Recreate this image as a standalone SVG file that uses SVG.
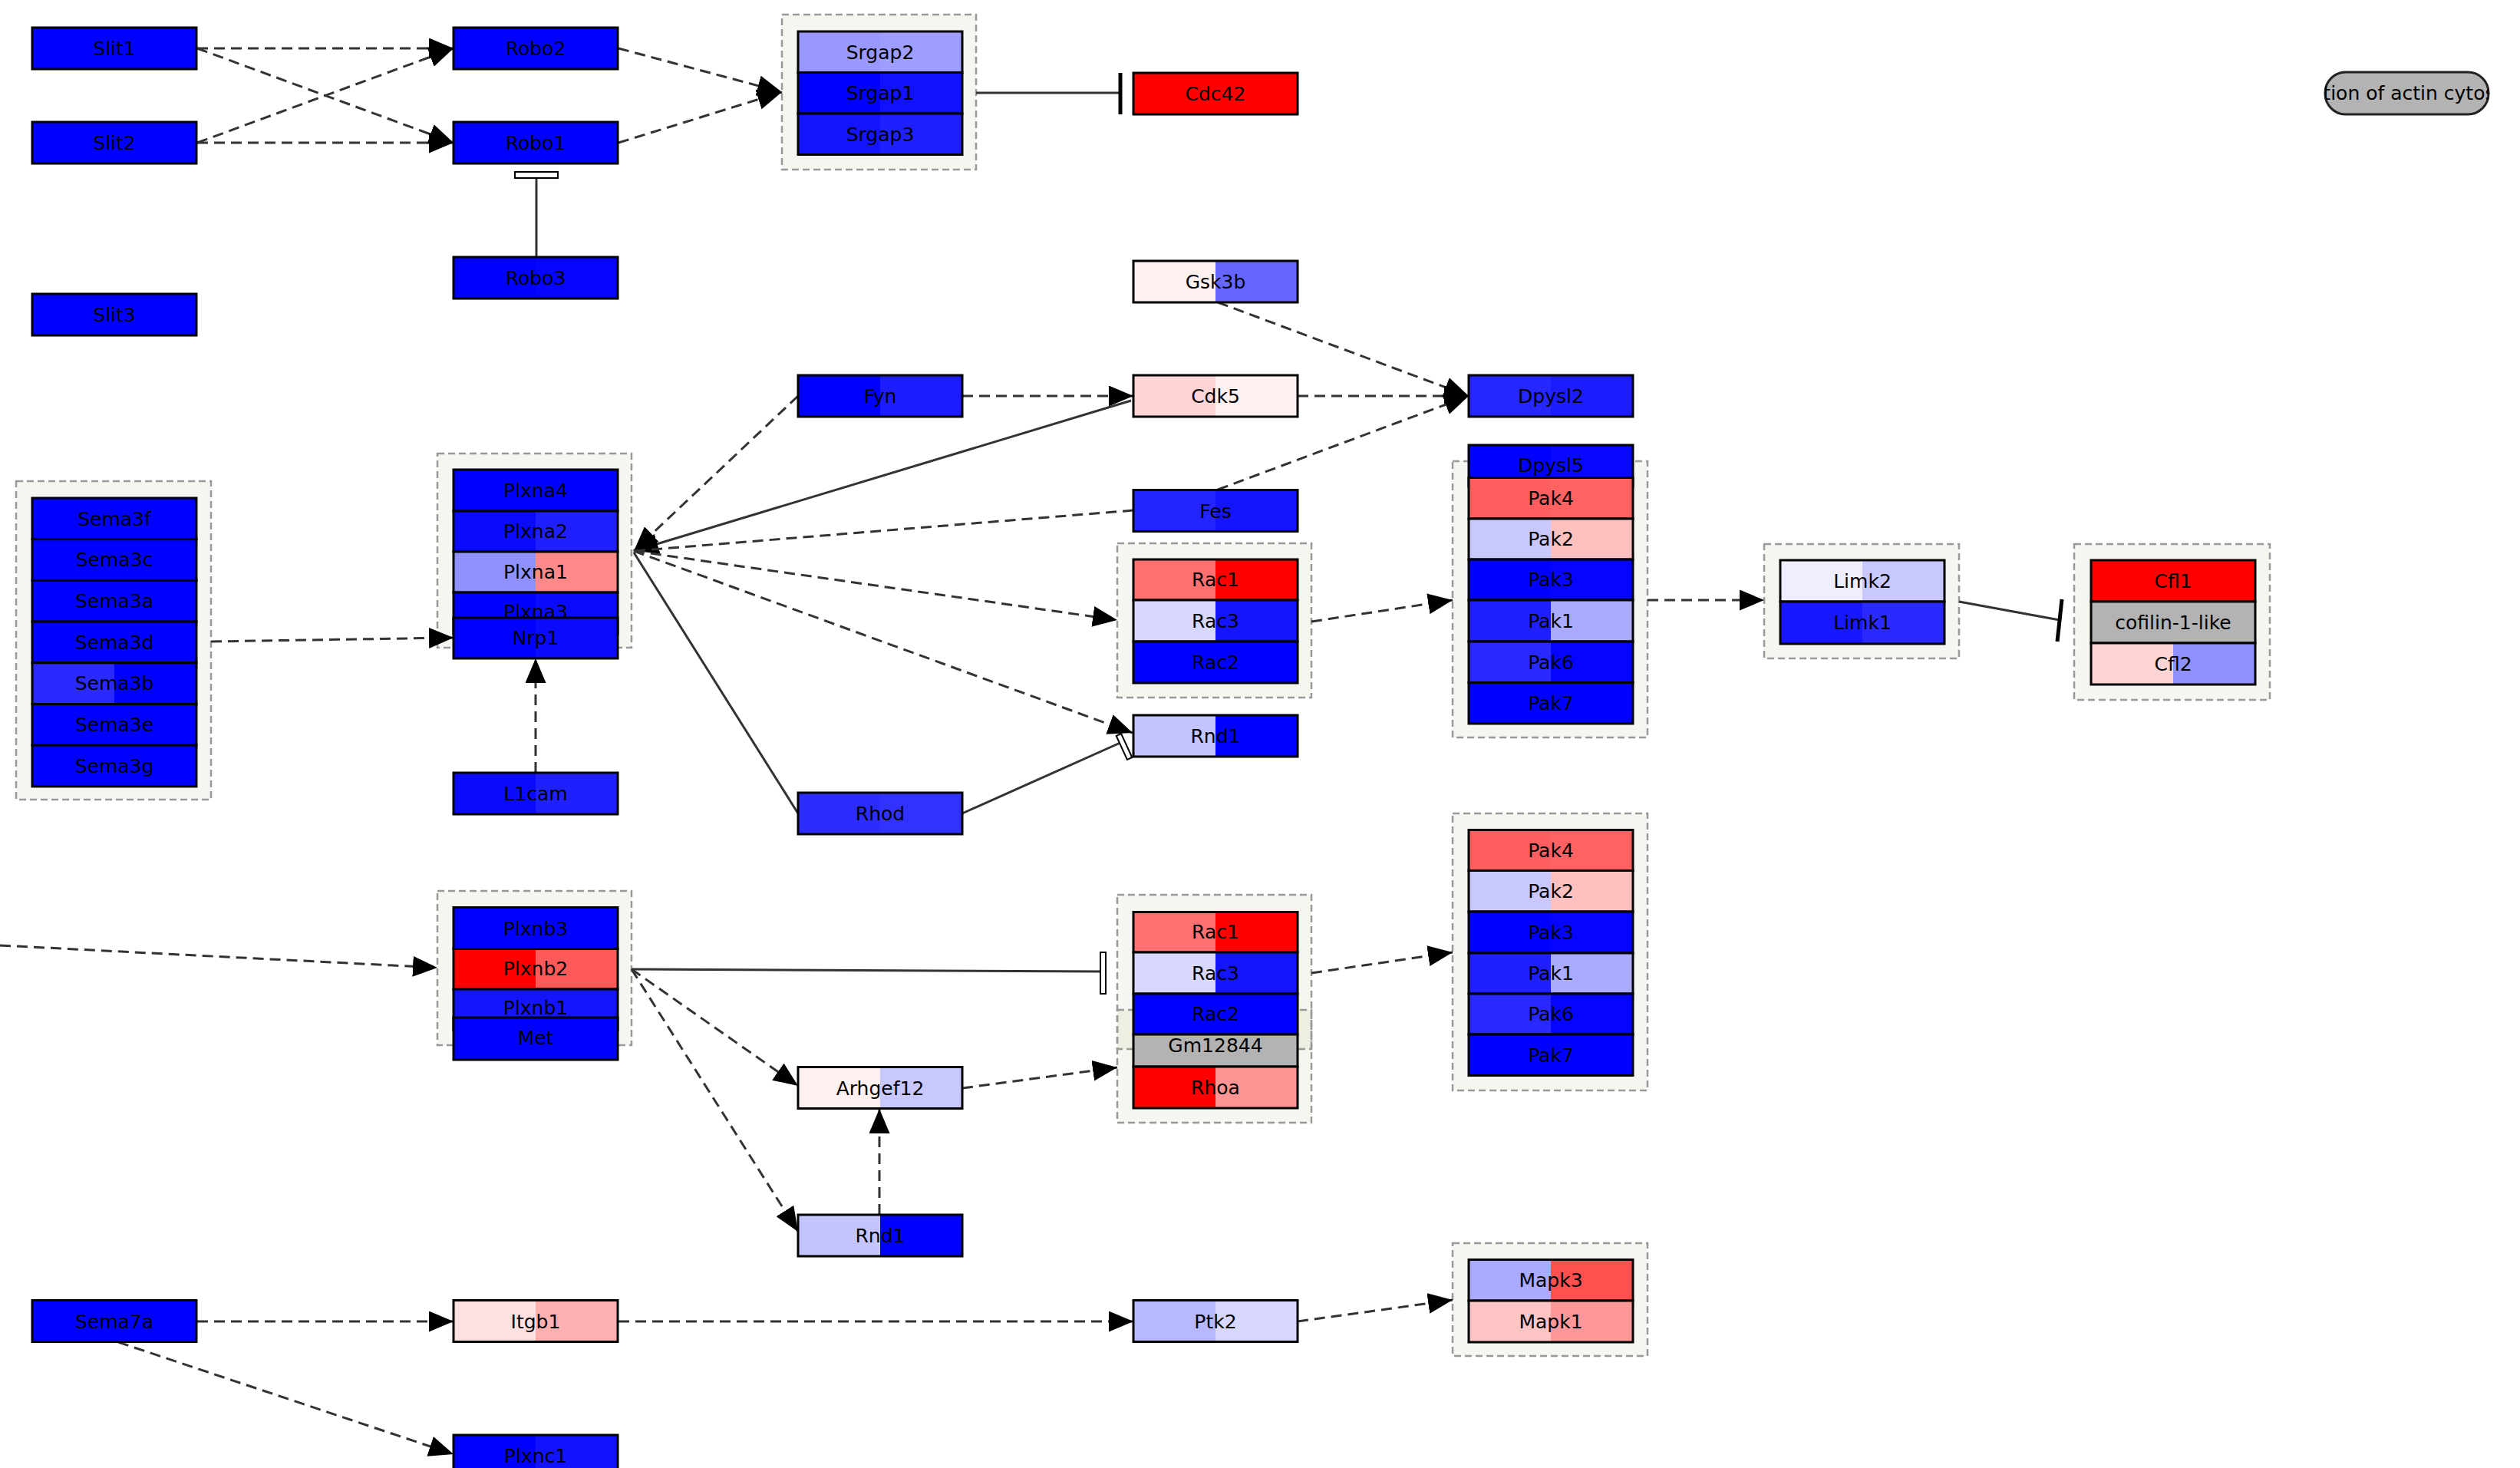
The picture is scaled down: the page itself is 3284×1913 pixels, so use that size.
<svg xmlns="http://www.w3.org/2000/svg" width="3284" height="1913" viewBox="0 0 3284 1913">
<style>
.b{fill:none;stroke:#000;stroke-width:3}
text{font-family:"DejaVu Sans","Liberation Sans",sans-serif;font-size:25px;text-anchor:middle;fill:#000}
.grp{fill:#adad77;fill-opacity:0.11;stroke:#999;stroke-width:2.5;stroke-dasharray:9 5}
.d{fill:none;stroke:#333;stroke-width:3;stroke-dasharray:14 8}
.s{fill:none;stroke:#333;stroke-width:3}
.hb{fill:#fff;stroke:#000;stroke-width:2}
.tb{stroke:#000;stroke-width:5}
</style>
<defs>
<marker id="a" viewBox="0 0 32 27" markerWidth="32" markerHeight="27" refX="32" refY="13.5" orient="auto" markerUnits="userSpaceOnUse"><path d="M0,0L32,13.5L0,27z" fill="#000" stroke="none"/></marker>
<clipPath id="cp"><rect x="3030" y="94" width="213" height="55"/></clipPath>
</defs>
<rect x="0" y="0" width="3284" height="1913" fill="#fff"/>
<g id="groups">
<rect class="grp" x="1019" y="19" width="253" height="202"/>
<rect class="grp" x="21" y="627" width="254" height="415"/>
<rect class="grp" x="570" y="591" width="253" height="253"/>
<rect class="grp" x="570" y="1161" width="253" height="201"/>
<rect class="grp" x="1456" y="708" width="253" height="201"/>
<rect class="grp" x="1893" y="601" width="254" height="360"/>
<rect class="grp" x="2299" y="709" width="254" height="149"/>
<rect class="grp" x="2703" y="709" width="255" height="203"/>
<rect class="grp" x="1456" y="1166" width="253" height="201"/>
<rect class="grp" x="1456" y="1316" width="253" height="147"/>
<rect class="grp" x="1893" y="1060" width="254" height="361"/>
<rect class="grp" x="1893" y="1620" width="254" height="147"/>
</g>
<g id="connectors">
<path class="d" d="M257,63L591,63" marker-end="url(#a)"/>
<path class="d" d="M257,63L591,186" marker-end="url(#a)"/>
<path class="d" d="M257,186L591,63" marker-end="url(#a)"/>
<path class="d" d="M257,186L591,186" marker-end="url(#a)"/>
<path class="d" d="M806,63L1019,120" marker-end="url(#a)"/>
<path class="d" d="M806,186L1019,120" marker-end="url(#a)"/>
<path class="s" d="M699,335L699,232"/>
<rect class="hb" x="671" y="224" width="56" height="8"/>
<path class="s" d="M1272,121L1460,121"/>
<path class="tb" d="M1460,95L1460,149"/>
<path class="d" d="M1587,394L1914,516" marker-end="url(#a)"/>
<path class="d" d="M1691,516L1914,516" marker-end="url(#a)"/>
<path class="d" d="M1587,638L1914,516" marker-end="url(#a)"/>
<path class="d" d="M1254,516L1477,516" marker-end="url(#a)"/>
<path class="d" d="M1040,516L826,718" marker-end="url(#a)"/>
<path class="s" d="M1474,522L826,718" marker-end="url(#a)"/>
<path class="d" d="M1477,665L826,718"/>
<path class="d" d="M826,718L1456,808" marker-end="url(#a)"/>
<path class="d" d="M826,718L1476,955" marker-end="url(#a)"/>
<path class="s" d="M1040,1060L826,720"/>
<path class="s" d="M1254,1060L1462,967"/>
<polygon class="hb" points="1461.1,956.1 1475.3,987 1468.9,990 1454.7,959"/>
<path class="d" d="M275,836L591,831" marker-end="url(#a)"/>
<path class="d" d="M698,1007L698,858" marker-end="url(#a)"/>
<path class="d" d="M0,1232L570,1261" marker-end="url(#a)"/>
<path class="s" d="M823,1263L1437,1266"/>
<rect class="hb" x="1434" y="1241" width="7" height="54"/>
<path class="d" d="M823,1263L1040,1415" marker-end="url(#a)"/>
<path class="d" d="M823,1263L1040,1605" marker-end="url(#a)"/>
<path class="d" d="M1254,1418L1456,1391" marker-end="url(#a)"/>
<path class="d" d="M1146,1583L1146,1445" marker-end="url(#a)"/>
<path class="d" d="M1709,1268L1893,1241" marker-end="url(#a)"/>
<path class="d" d="M1709,810L1893,782" marker-end="url(#a)"/>
<path class="d" d="M2147,782L2299,782" marker-end="url(#a)"/>
<path class="s" d="M2553,784L2684,808"/>
<path class="tb" d="M2687,781L2681,836"/>
<path class="d" d="M257,1722L591,1722" marker-end="url(#a)"/>
<path class="d" d="M154,1749L591,1895" marker-end="url(#a)"/>
<path class="d" d="M806,1722L1477,1722" marker-end="url(#a)"/>
<path class="d" d="M1691,1722L1893,1694" marker-end="url(#a)"/>
</g>
<g id="n-Slit1"><rect x="42" y="36" width="214" height="54" fill="#0000ff"/><rect class="b" x="42" y="36" width="214" height="54"/><text x="149" y="72">Slit1</text></g>
<g id="n-Slit2"><rect x="42" y="159" width="214" height="54" fill="#0000ff"/><rect class="b" x="42" y="159" width="214" height="54"/><text x="149" y="195">Slit2</text></g>
<g id="n-Slit3"><rect x="42" y="383" width="214" height="54" fill="#0000ff"/><rect class="b" x="42" y="383" width="214" height="54"/><text x="149" y="419">Slit3</text></g>
<g id="n-Robo2"><rect x="591" y="36" width="214" height="54" fill="#0000ff"/><rect class="b" x="591" y="36" width="214" height="54"/><text x="698" y="72">Robo2</text></g>
<g id="n-Robo1"><rect x="591" y="159" width="214" height="54" fill="#0000ff"/><rect class="b" x="591" y="159" width="214" height="54"/><text x="698" y="195">Robo1</text></g>
<g id="n-Robo3"><rect x="591" y="335" width="107" height="54" fill="#0000ff"/><rect x="698" y="335" width="107" height="54" fill="#0505ff"/><rect class="b" x="591" y="335" width="214" height="54"/><text x="698" y="371">Robo3</text></g>
<g id="n-Srgap2"><rect x="1040" y="41" width="107" height="53.5" fill="#9898ff"/><rect x="1147" y="41" width="107" height="53.5" fill="#9e9eff"/><rect class="b" x="1040" y="41" width="214" height="53.5"/><text x="1147" y="76.5">Srgap2</text></g>
<g id="n-Srgap1"><rect x="1040" y="94.5" width="107" height="53.5" fill="#0000ff"/><rect x="1147" y="94.5" width="107" height="53.5" fill="#1111ff"/><rect class="b" x="1040" y="94.5" width="214" height="53.5"/><text x="1147" y="130">Srgap1</text></g>
<g id="n-Srgap3"><rect x="1040" y="148" width="107" height="53.5" fill="#1414ff"/><rect x="1147" y="148" width="107" height="53.5" fill="#2020ff"/><rect class="b" x="1040" y="148" width="214" height="53.5"/><text x="1147" y="183.5">Srgap3</text></g>
<g id="n-Cdc42"><rect x="1477" y="95" width="214" height="54" fill="#ff0000"/><rect class="b" x="1477" y="95" width="214" height="54"/><text x="1584" y="131">Cdc42</text></g>
<g id="n-Gsk3b"><rect x="1477" y="340" width="107" height="54" fill="#fff0f0"/><rect x="1584" y="340" width="107" height="54" fill="#6666ff"/><rect class="b" x="1477" y="340" width="214" height="54"/><text x="1584" y="376">Gsk3b</text></g>
<g id="n-Fyn"><rect x="1040" y="489" width="107" height="54" fill="#0000ff"/><rect x="1147" y="489" width="107" height="54" fill="#1c1cff"/><rect class="b" x="1040" y="489" width="214" height="54"/><text x="1147" y="525">Fyn</text></g>
<g id="n-Cdk5"><rect x="1477" y="489" width="107" height="54" fill="#ffd4d4"/><rect x="1584" y="489" width="107" height="54" fill="#fff0f0"/><rect class="b" x="1477" y="489" width="214" height="54"/><text x="1584" y="525">Cdk5</text></g>
<g id="n-Dpysl2"><rect x="1914" y="489" width="107" height="54" fill="#2626ff"/><rect x="2021" y="489" width="107" height="54" fill="#1c1cff"/><rect class="b" x="1914" y="489" width="214" height="54"/><text x="2021" y="525">Dpysl2</text></g>
<g id="n-Fes"><rect x="1477" y="638.5" width="107" height="54" fill="#2424ff"/><rect x="1584" y="638.5" width="107" height="54" fill="#1414ff"/><rect class="b" x="1477" y="638.5" width="214" height="54"/><text x="1584" y="674.5">Fes</text></g>
<g id="n-Dpysl5"><rect x="1914" y="580" width="107" height="54" fill="#0000ff"/><rect x="2021" y="580" width="107" height="54" fill="#0808ff"/><rect class="b" x="1914" y="580" width="214" height="54"/><text x="2021" y="615">Dpysl5</text></g>
<g id="n-Pak4-u"><rect x="1914" y="622.5" width="107" height="53.5" fill="#ff5e5e"/><rect x="2021" y="622.5" width="107" height="53.5" fill="#ff6262"/><rect class="b" x="1914" y="622.5" width="214" height="53.5"/><text x="2021" y="658">Pak4</text></g>
<g id="n-Pak2-u"><rect x="1914" y="676" width="107" height="53" fill="#c8c8ff"/><rect x="2021" y="676" width="107" height="53" fill="#ffc0c0"/><rect class="b" x="1914" y="676" width="214" height="53"/><text x="2021" y="711">Pak2</text></g>
<g id="n-Pak3-u"><rect x="1914" y="729" width="107" height="53" fill="#0000ff"/><rect x="2021" y="729" width="107" height="53" fill="#0404ff"/><rect class="b" x="1914" y="729" width="214" height="53"/><text x="2021" y="764">Pak3</text></g>
<g id="n-Pak1-u"><rect x="1914" y="782" width="107" height="54" fill="#2020ff"/><rect x="2021" y="782" width="107" height="54" fill="#aaaaff"/><rect class="b" x="1914" y="782" width="214" height="54"/><text x="2021" y="818">Pak1</text></g>
<g id="n-Pak6-u"><rect x="1914" y="836" width="107" height="53.5" fill="#2828ff"/><rect x="2021" y="836" width="107" height="53.5" fill="#0404ff"/><rect class="b" x="1914" y="836" width="214" height="53.5"/><text x="2021" y="871.5">Pak6</text></g>
<g id="n-Pak7-u"><rect x="1914" y="889.5" width="214" height="53.5" fill="#0000ff"/><rect class="b" x="1914" y="889.5" width="214" height="53.5"/><text x="2021" y="925">Pak7</text></g>
<g id="n-Rac1-u"><rect x="1477" y="729" width="107" height="53" fill="#ff7070"/><rect x="1584" y="729" width="107" height="53" fill="#ff0000"/><rect class="b" x="1477" y="729" width="214" height="53"/><text x="1584" y="764">Rac1</text></g>
<g id="n-Rac3-u"><rect x="1477" y="782" width="107" height="54" fill="#d8d8ff"/><rect x="1584" y="782" width="107" height="54" fill="#1414ff"/><rect class="b" x="1477" y="782" width="214" height="54"/><text x="1584" y="818">Rac3</text></g>
<g id="n-Rac2-u"><rect x="1477" y="836" width="214" height="54" fill="#0000ff"/><rect class="b" x="1477" y="836" width="214" height="54"/><text x="1584" y="872">Rac2</text></g>
<g id="n-Rnd1-u"><rect x="1477" y="932" width="107" height="54" fill="#c4c4ff"/><rect x="1584" y="932" width="107" height="54" fill="#0000ff"/><rect class="b" x="1477" y="932" width="214" height="54"/><text x="1584" y="968">Rnd1</text></g>
<g id="n-Rhod"><rect x="1040" y="1033" width="107" height="54" fill="#2c2cff"/><rect x="1147" y="1033" width="107" height="54" fill="#3232ff"/><rect class="b" x="1040" y="1033" width="214" height="54"/><text x="1147" y="1069">Rhod</text></g>
<g id="n-Plxna4"><rect x="591" y="612" width="214" height="54" fill="#0000ff"/><rect class="b" x="591" y="612" width="214" height="54"/><text x="698" y="648">Plxna4</text></g>
<g id="n-Plxna2"><rect x="591" y="666" width="107" height="53" fill="#0a0aff"/><rect x="698" y="666" width="107" height="53" fill="#2020ff"/><rect class="b" x="591" y="666" width="214" height="53"/><text x="698" y="701">Plxna2</text></g>
<g id="n-Plxna1"><rect x="591" y="719" width="107" height="53" fill="#9090ff"/><rect x="698" y="719" width="107" height="53" fill="#ff8888"/><rect class="b" x="591" y="719" width="214" height="53"/><text x="698" y="754">Plxna1</text></g>
<g id="n-Plxna3"><rect x="591" y="772" width="107" height="54" fill="#0000ff"/><rect x="698" y="772" width="107" height="54" fill="#0a0aff"/><rect class="b" x="591" y="772" width="214" height="54"/><text x="698" y="806">Plxna3</text></g>
<g id="n-Nrp1"><rect x="591" y="805" width="107" height="53" fill="#0000ff"/><rect x="698" y="805" width="107" height="53" fill="#0a0aff"/><rect class="b" x="591" y="805" width="214" height="53"/><text x="698" y="840">Nrp1</text></g>
<g id="n-L1cam"><rect x="591" y="1007" width="107" height="54" fill="#0a0aff"/><rect x="698" y="1007" width="107" height="54" fill="#2020ff"/><rect class="b" x="591" y="1007" width="214" height="54"/><text x="698" y="1043">L1cam</text></g>
<g id="n-Sema3f"><rect x="42" y="649" width="214" height="53.7" fill="#0000ff"/><rect class="b" x="42" y="649" width="214" height="53.7"/><text x="149" y="684.5">Sema3f</text></g>
<g id="n-Sema3c"><rect x="42" y="702.7" width="214" height="53.7" fill="#0000ff"/><rect class="b" x="42" y="702.7" width="214" height="53.7"/><text x="149" y="738">Sema3c</text></g>
<g id="n-Sema3a"><rect x="42" y="756.4" width="214" height="53.7" fill="#0000ff"/><rect class="b" x="42" y="756.4" width="214" height="53.7"/><text x="149" y="792">Sema3a</text></g>
<g id="n-Sema3d"><rect x="42" y="810.1" width="214" height="53.7" fill="#0000ff"/><rect class="b" x="42" y="810.1" width="214" height="53.7"/><text x="149" y="845.5">Sema3d</text></g>
<g id="n-Sema3b"><rect x="42" y="863.8" width="107" height="53.7" fill="#2a2aff"/><rect x="149" y="863.8" width="107" height="53.7" fill="#0000ff"/><rect class="b" x="42" y="863.8" width="214" height="53.7"/><text x="149" y="899">Sema3b</text></g>
<g id="n-Sema3e"><rect x="42" y="917.5" width="214" height="53.7" fill="#0000ff"/><rect class="b" x="42" y="917.5" width="214" height="53.7"/><text x="149" y="953">Sema3e</text></g>
<g id="n-Sema3g"><rect x="42" y="971.2" width="214" height="53.7" fill="#0000ff"/><rect class="b" x="42" y="971.2" width="214" height="53.7"/><text x="149" y="1006.5">Sema3g</text></g>
<g id="n-Plxnb3"><rect x="591" y="1182.5" width="214" height="54" fill="#0000ff"/><rect class="b" x="591" y="1182.5" width="214" height="54"/><text x="698" y="1218.5">Plxnb3</text></g>
<g id="n-Plxnb2"><rect x="591" y="1236.5" width="107" height="52.5" fill="#ff0000"/><rect x="698" y="1236.5" width="107" height="52.5" fill="#ff5a5a"/><rect class="b" x="591" y="1236.5" width="214" height="52.5"/><text x="698" y="1271">Plxnb2</text></g>
<g id="n-Plxnb1"><rect x="591" y="1289" width="214" height="54" fill="#1414ff"/><rect class="b" x="591" y="1289" width="214" height="54"/><text x="698" y="1322">Plxnb1</text></g>
<g id="n-Met"><rect x="591" y="1326" width="214" height="55" fill="#0000ff"/><rect class="b" x="591" y="1326" width="214" height="55"/><text x="698" y="1361">Met</text></g>
<g id="n-Arhgef12"><rect x="1040" y="1390.5" width="107" height="54" fill="#fff0f0"/><rect x="1147" y="1390.5" width="107" height="54" fill="#c8c8ff"/><rect class="b" x="1040" y="1390.5" width="214" height="54"/><text x="1147" y="1426.5">Arhgef12</text></g>
<g id="n-Rnd1-l"><rect x="1040" y="1583" width="107" height="54" fill="#c4c4ff"/><rect x="1147" y="1583" width="107" height="54" fill="#0000ff"/><rect class="b" x="1040" y="1583" width="214" height="54"/><text x="1147" y="1619">Rnd1</text></g>
<g id="n-Rac1-l"><rect x="1477" y="1188.5" width="107" height="52.5" fill="#ff7070"/><rect x="1584" y="1188.5" width="107" height="52.5" fill="#ff0000"/><rect class="b" x="1477" y="1188.5" width="214" height="52.5"/><text x="1584" y="1223">Rac1</text></g>
<g id="n-Rac3-l"><rect x="1477" y="1241" width="107" height="54" fill="#d8d8ff"/><rect x="1584" y="1241" width="107" height="54" fill="#1414ff"/><rect class="b" x="1477" y="1241" width="214" height="54"/><text x="1584" y="1277">Rac3</text></g>
<g id="n-Rac2-l"><rect x="1477" y="1295" width="214" height="53" fill="#0000ff"/><rect class="b" x="1477" y="1295" width="214" height="53"/><text x="1584" y="1330">Rac2</text></g>
<g id="n-Gm12844"><rect x="1477" y="1348" width="214" height="42" fill="#b3b3b3"/><rect class="b" x="1477" y="1348" width="214" height="42"/><text x="1584" y="1371">Gm12844</text></g>
<g id="n-Rhoa"><rect x="1477" y="1390" width="107" height="54" fill="#ff0000"/><rect x="1584" y="1390" width="107" height="54" fill="#ff9494"/><rect class="b" x="1477" y="1390" width="214" height="54"/><text x="1584" y="1426">Rhoa</text></g>
<g id="n-Pak4-l"><rect x="1914" y="1081.5" width="107" height="53" fill="#ff5e5e"/><rect x="2021" y="1081.5" width="107" height="53" fill="#ff6262"/><rect class="b" x="1914" y="1081.5" width="214" height="53"/><text x="2021" y="1116.5">Pak4</text></g>
<g id="n-Pak2-l"><rect x="1914" y="1134.5" width="107" height="53.5" fill="#c8c8ff"/><rect x="2021" y="1134.5" width="107" height="53.5" fill="#ffc0c0"/><rect class="b" x="1914" y="1134.5" width="214" height="53.5"/><text x="2021" y="1170">Pak2</text></g>
<g id="n-Pak3-l"><rect x="1914" y="1188" width="107" height="54" fill="#0000ff"/><rect x="2021" y="1188" width="107" height="54" fill="#0404ff"/><rect class="b" x="1914" y="1188" width="214" height="54"/><text x="2021" y="1224">Pak3</text></g>
<g id="n-Pak1-l"><rect x="1914" y="1242" width="107" height="53" fill="#2020ff"/><rect x="2021" y="1242" width="107" height="53" fill="#aaaaff"/><rect class="b" x="1914" y="1242" width="214" height="53"/><text x="2021" y="1277">Pak1</text></g>
<g id="n-Pak6-l"><rect x="1914" y="1295" width="107" height="53" fill="#2828ff"/><rect x="2021" y="1295" width="107" height="53" fill="#0404ff"/><rect class="b" x="1914" y="1295" width="214" height="53"/><text x="2021" y="1330">Pak6</text></g>
<g id="n-Pak7-l"><rect x="1914" y="1348" width="214" height="53.5" fill="#0000ff"/><rect class="b" x="1914" y="1348" width="214" height="53.5"/><text x="2021" y="1383.5">Pak7</text></g>
<g id="n-Sema7a"><rect x="42" y="1694.5" width="214" height="54" fill="#0000ff"/><rect class="b" x="42" y="1694.5" width="214" height="54"/><text x="149" y="1730.5">Sema7a</text></g>
<g id="n-Itgb1"><rect x="591" y="1694.5" width="107" height="54" fill="#ffe0e0"/><rect x="698" y="1694.5" width="107" height="54" fill="#ffb0b0"/><rect class="b" x="591" y="1694.5" width="214" height="54"/><text x="698" y="1730.5">Itgb1</text></g>
<g id="n-Ptk2"><rect x="1477" y="1694.5" width="107" height="54" fill="#b8b8ff"/><rect x="1584" y="1694.5" width="107" height="54" fill="#d8d8ff"/><rect class="b" x="1477" y="1694.5" width="214" height="54"/><text x="1584" y="1730.5">Ptk2</text></g>
<g id="n-Plxnc1"><rect x="591" y="1870" width="107" height="54" fill="#0000ff"/><rect x="698" y="1870" width="107" height="54" fill="#1212ff"/><rect class="b" x="591" y="1870" width="214" height="54"/><text x="698" y="1906">Plxnc1</text></g>
<g id="n-Mapk3"><rect x="1914" y="1641.5" width="107" height="53.5" fill="#aaaaff"/><rect x="2021" y="1641.5" width="107" height="53.5" fill="#ff5050"/><rect class="b" x="1914" y="1641.5" width="214" height="53.5"/><text x="2021" y="1677">Mapk3</text></g>
<g id="n-Mapk1"><rect x="1914" y="1695" width="107" height="54" fill="#ffc4c4"/><rect x="2021" y="1695" width="107" height="54" fill="#ff9898"/><rect class="b" x="1914" y="1695" width="214" height="54"/><text x="2021" y="1731">Mapk1</text></g>
<g id="n-Limk2"><rect x="2320" y="730" width="107" height="54" fill="#eeeeff"/><rect x="2427" y="730" width="107" height="54" fill="#c8c8ff"/><rect class="b" x="2320" y="730" width="214" height="54"/><text x="2427" y="766">Limk2</text></g>
<g id="n-Limk1"><rect x="2320" y="784" width="107" height="55" fill="#1818ff"/><rect x="2427" y="784" width="107" height="55" fill="#2a2aff"/><rect class="b" x="2320" y="784" width="214" height="55"/><text x="2427" y="820">Limk1</text></g>
<g id="n-Cfl1"><rect x="2725" y="730" width="214" height="54" fill="#ff0000"/><rect class="b" x="2725" y="730" width="214" height="54"/><text x="2832" y="766">Cfl1</text></g>
<g id="n-cofilin-1-like"><rect x="2725" y="784" width="214" height="54" fill="#b3b3b3"/><rect class="b" x="2725" y="784" width="214" height="54"/><text x="2832" y="820">cofilin-1-like</text></g>
<g id="n-Cfl2"><rect x="2725" y="838" width="107" height="54" fill="#ffd4d4"/><rect x="2832" y="838" width="107" height="54" fill="#9090ff"/><rect class="b" x="2725" y="838" width="214" height="54"/><text x="2832" y="874">Cfl2</text></g>
<g id="n-actin"><rect x="3030" y="94" width="213" height="55" rx="27" ry="27" fill="#b3b3b3" stroke="#222" stroke-width="3"/><text x="3146" y="130" clip-path="url(#cp)">regulation of actin cytoskeleton</text></g>
</svg>
